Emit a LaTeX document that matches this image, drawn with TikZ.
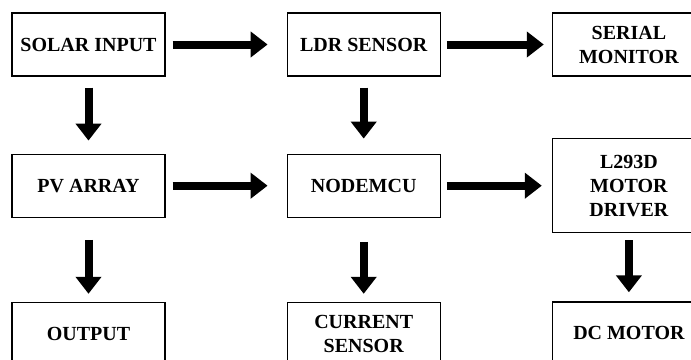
\documentclass[tikz,border=0pt]{standalone}
\usepackage{fontspec}
\setmainfont{Liberation Serif}
\usetikzlibrary{arrows.meta, positioning}

\begin{document}
\begin{tikzpicture}[every node/.style={font=\bfseries},
    block/.style={draw, rectangle, line width=0.6pt, minimum width=76.5pt, minimum height=31.5pt, align=center, inner sep=2pt},
    flow/.style={line width=4pt, -{Triangle[length=8.5pt, width=12.5pt]}}]
    \clip (-44.25pt,22.25pt) rectangle (301.25pt,-157.25pt);
    \fill[white] (-44.25pt,22.25pt) rectangle (301.25pt,-157.25pt);

    % top row
    \node[block] (solar) {SOLAR INPUT};
    \node[block, right=60.5pt of solar] (ldr) {LDR SENSOR};
    \node[block, right=55.5pt of ldr] (serial) {SERIAL\\MONITOR};

    % middle row
    \node[block, below=38.5pt of solar] (pv) {PV ARRAY};
    \node[block, below=38.5pt of ldr] (mcu) {NODEMCU};
    \node[block, minimum height=47pt, right=55.5pt of mcu] (driver) {L293D\\MOTOR\\DRIVER};

    % bottom row
    \node[block, below=42pt of pv] (output) {OUTPUT};
    \node[block, below=42pt of mcu] (current) {CURRENT\\SENSOR};
    \node[block, below=34pt of driver] (motor) {DC MOTOR};

    % arrows
    \draw[flow, shorten <=3.5pt, shorten >=9.5pt] (solar) -- (ldr);
    \draw[flow, shorten <=3pt, shorten >=4pt] (ldr) -- (serial);
    \draw[flow, shorten <=3.5pt, shorten >=9.5pt] (pv) -- (mcu);
    \draw[flow, shorten <=3pt, shorten >=5pt] (mcu) -- (driver);

    \draw[flow, shorten <=5.5pt, shorten >=6.5pt] (solar) -- (pv);
    \draw[flow, shorten <=5.5pt, shorten >=7.5pt] (ldr) -- (mcu);
    \draw[flow, shorten <=11pt, shorten >=4pt] (pv) -- (output);
    \draw[flow, shorten <=12pt, shorten >=4pt] (mcu) -- (current);
    \draw[flow, shorten <=3.5pt, shorten >=4.5pt] (driver) -- (motor);
\end{tikzpicture}
\end{document}
